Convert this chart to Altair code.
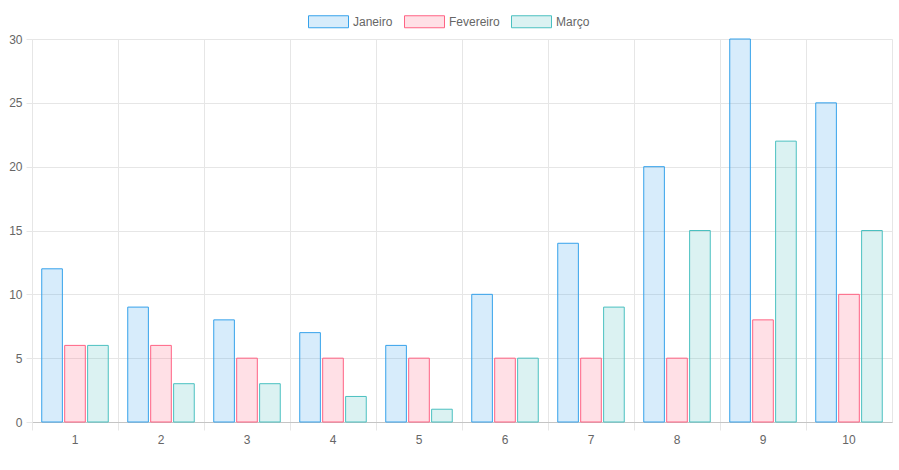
import altair as alt
import pandas as pd

dias = [str(i) for i in range(1, 11)]
meses = ["Janeiro", "Fevereiro", "Março"]
janeiro = [12, 9, 8, 7, 6, 10, 14, 20, 30, 25]
fevereiro = [6, 6, 5, 5, 5, 5, 5, 5, 8, 10]
marco = [6, 3, 3, 2, 1, 5, 9, 15, 22, 15]
y_ticks = [0, 5, 10, 15, 20, 25, 30]

fill_colors = ["rgba(54,162,235,0.2)", "rgba(255,99,132,0.2)", "rgba(75,192,192,0.2)"]
stroke_colors = ["rgb(54,162,235)", "rgb(255,99,132)", "rgb(75,192,192)"]

rows = []
for m, vals in zip(meses, [janeiro, fevereiro, marco]):
    for d, v in zip(dias, vals):
        rows.append({"dia": d, "mes": m, "valor": v})
df = pd.DataFrame(rows)

grid_color = "#e6e6e6"
zero_color = "#c4c4c4"
label_color = "#666666"
font = "Liberation Sans"

x_scale = alt.Scale(domain=dias, paddingInner=0, paddingOuter=0)
xoff_scale = alt.Scale(domain=meses, paddingInner=0.1, paddingOuter=0.425)

legend = alt.Legend(
    title=None, orient="none", legendX=276, legendY=-38, direction="horizontal",
    symbolType="M-1,-0.3L1,-0.3L1,0.3L-1,0.3Z", symbolSize=1600, symbolStrokeWidth=1,
    symbolOpacity=1, labelFontSize=12, labelColor=label_color, labelFont=font,
    labelOffset=4, columnPadding=9, padding=0,
)

bars = alt.Chart(df).mark_bar(strokeWidth=1).encode(
    x=alt.X("dia:N", scale=x_scale, sort=dias,
            axis=alt.Axis(title=None, labels=False, bandPosition=0, grid=True,
                          gridColor=grid_color, tickColor=grid_color, tickSize=8,
                          domainColor=zero_color, orient="bottom")),
    xOffset=alt.XOffset("mes:N", scale=xoff_scale, sort=meses),
    y=alt.Y("valor:Q", scale=alt.Scale(domain=[0, 30], nice=False),
            axis=alt.Axis(title=None, values=y_ticks, gridColor=grid_color,
                          tickColor=grid_color, domainColor=grid_color, tickSize=6,
                          labelPadding=4, labelColor=label_color, labelFontSize=12,
                          labelFont=font)),
    fill=alt.Fill("mes:N", scale=alt.Scale(domain=meses, range=fill_colors), legend=legend),
    stroke=alt.Stroke("mes:N", scale=alt.Scale(domain=meses, range=stroke_colors), legend=legend),
)

labels = alt.Chart(pd.DataFrame({"dia": dias})).mark_tick(opacity=0).encode(
    x=alt.X("dia:N", scale=x_scale, sort=dias,
            axis=alt.Axis(title=None, ticks=False, domain=False, grid=False, orient="bottom",
                          labelPadding=12, labelColor=label_color, labelFontSize=12,
                          labelFont=font, labelAngle=0)),
)

chart = alt.layer(bars, labels).resolve_axis(x="independent").properties(
    width=860, height=383,
    autosize=alt.AutoSizeParams(type="none"),
    padding={"left": 32, "top": 39, "right": 7, "bottom": 48},
).configure_view(stroke=grid_color)

chart.save("out.html", embed_options={"renderer": "svg", "actions": False})
